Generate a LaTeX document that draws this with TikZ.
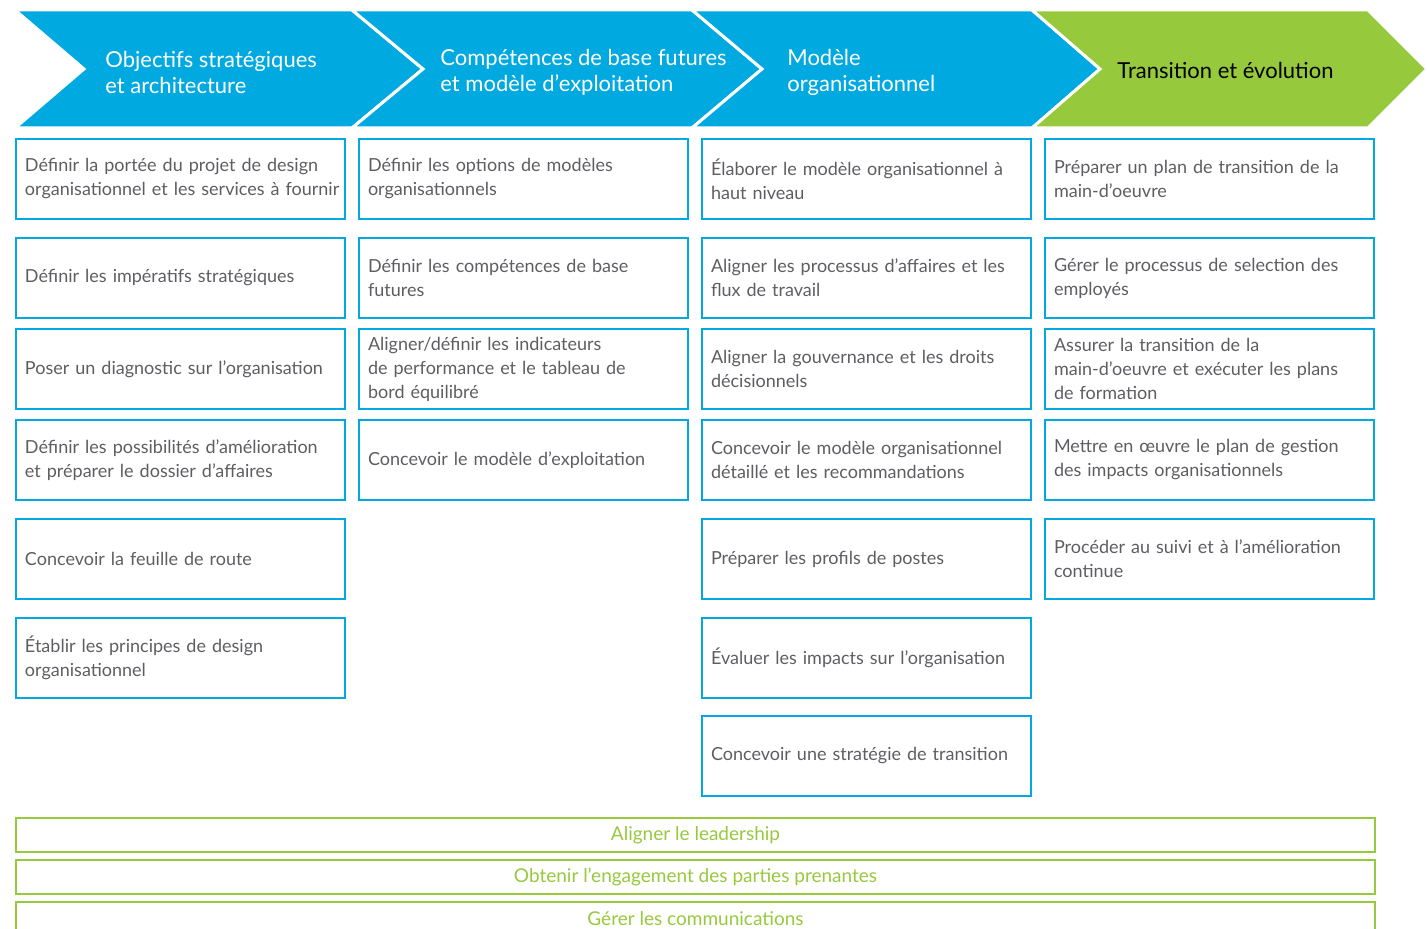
\documentclass[tikz,border=0pt]{standalone}
\usepackage{fontspec}
\setmainfont{Lato}
\usetikzlibrary{positioning}

\definecolor{bleu}{HTML}{00A9E0}
\definecolor{vert}{HTML}{97C93D}
\definecolor{gris}{HTML}{5E5E62}

\tikzset{
  tache/.style={draw=bleu, line width=1pt, anchor=north west, align=left,
    text width=155.5pt, inner xsep=4.5pt, inner ysep=0pt,
    minimum height=40pt, text=gris, font=\fontsize{9}{12}\selectfont},
  phase/.style={anchor=west, align=left, text=white, inner sep=0pt,
    font=\fontsize{11}{13}\selectfont},
  levier/.style={draw=vert, line width=1pt, anchor=north west, inner sep=0pt,
    minimum width=679.5pt, minimum height=17pt, text=vert,
    font=\fontsize{9.5}{11}\selectfont},
}

\begin{document}
\begin{tikzpicture}[x=0.5pt,y=-0.5pt]
  \useasboundingbox (0,0) rectangle (1427,929);
  \clip (0,0) rectangle (1427,929);

  % bandeau des phases
  \fill[bleu, draw=white, line width=1.5pt] (15,10) -- (352,10) -- (423,69) -- (352,128) -- (15,128) -- (84,69) -- cycle;
  \fill[bleu, draw=white, line width=1.5pt] (352,10) -- (692,10) -- (762,69) -- (692,128) -- (352,128) -- (423,69) -- cycle;
  \fill[bleu, draw=white, line width=1.5pt] (692,10) -- (1032,10) -- (1100,69) -- (1032,128) -- (692,128) -- (762,69) -- cycle;
  \fill[vert, draw=white, line width=1.5pt] (1032,10) -- (1368,10) -- (1427,69) -- (1368,128) -- (1032,128) -- (1100,69) -- cycle;

  \node[phase] (objectifs) at (105,72) {Objectifs stratégiques\\et architecture};
  \node[phase] (competences) at (440,72) {Compétences de base futures\\et modèle d’exploitation};
  \node[phase] (modele) at (787,72) {Modèle\\organisationnel};
  \node[phase, text=black] (transition) at (1117,70) {Transition et évolution};

  % colonne 1
  \node[tache] (a1) at (15,138) {Définir la portée du projet de design\\\mbox{organisationnel et les services à fournir}};
  \node[tache] (a2) at (15,237) {Définir les impératifs stratégiques};
  \node[tache] (a3) at (15,328) {Poser un diagnostic sur l’organisation};
  \node[tache] (a4) at (15,419) {Définir les possibilités d’amélioration\\et préparer le dossier d’affaires};
  \node[tache] (a5) at (15,518) {Concevoir la feuille de route};
  \node[tache] (a6) at (15,617) {Établir les principes de design\\organisationnel};

  % colonne 2
  \node[tache] (b1) at (358,138) {Définir les options de modèles\\organisationnels};
  \node[tache] (b2) at (358,237) {Définir les compétences de base\\futures};
  \node[tache] (b3) at (358,328) {Aligner/définir les indicateurs\\de performance et le tableau de\\bord équilibré};
  \node[tache] (b4) at (358,419) {Concevoir le modèle d’exploitation};

  % colonne 3
  \node[tache] (c1) at (701,138) {Élaborer le modèle organisationnel à\\haut niveau};
  \node[tache] (c2) at (701,237) {Aligner les processus d’affaires et les\\flux de travail};
  \node[tache] (c3) at (701,328) {Aligner la gouvernance et les droits\\décisionnels};
  \node[tache] (c4) at (701,419) {Concevoir le modèle organisationnel\\détaillé et les recommandations};
  \node[tache] (c5) at (701,518) {Préparer les profils de postes};
  \node[tache] (c6) at (701,617) {Évaluer les impacts sur l’organisation};
  \node[tache] (c7) at (701,715) {Concevoir une stratégie de transition};

  % colonne 4
  \node[tache] (d1) at (1044,138) {Préparer un plan de transition de la\\main-d’oeuvre};
  \node[tache] (d2) at (1044,237) {Gérer le processus de selection des\\employés};
  \node[tache] (d3) at (1044,328) {Assurer la transition de la\\main-d’oeuvre et exécuter les plans\\de formation};
  \node[tache] (d4) at (1044,419) {Mettre en œuvre le plan de gestion\\des impacts organisationnels};
  \node[tache] (d5) at (1044,518) {Procéder au suivi et à l’amélioration\\continue};

  % leviers transversaux
  \node[levier] (leadership) at (15,817) {Aligner le leadership};
  \node[levier] (engagement) at (15,859) {Obtenir l’engagement des parties prenantes};
  \node[levier, minimum height=20pt] (communications) at (15,901) {\raisebox{4pt}{Gérer les communications}};
\end{tikzpicture}
\end{document}
